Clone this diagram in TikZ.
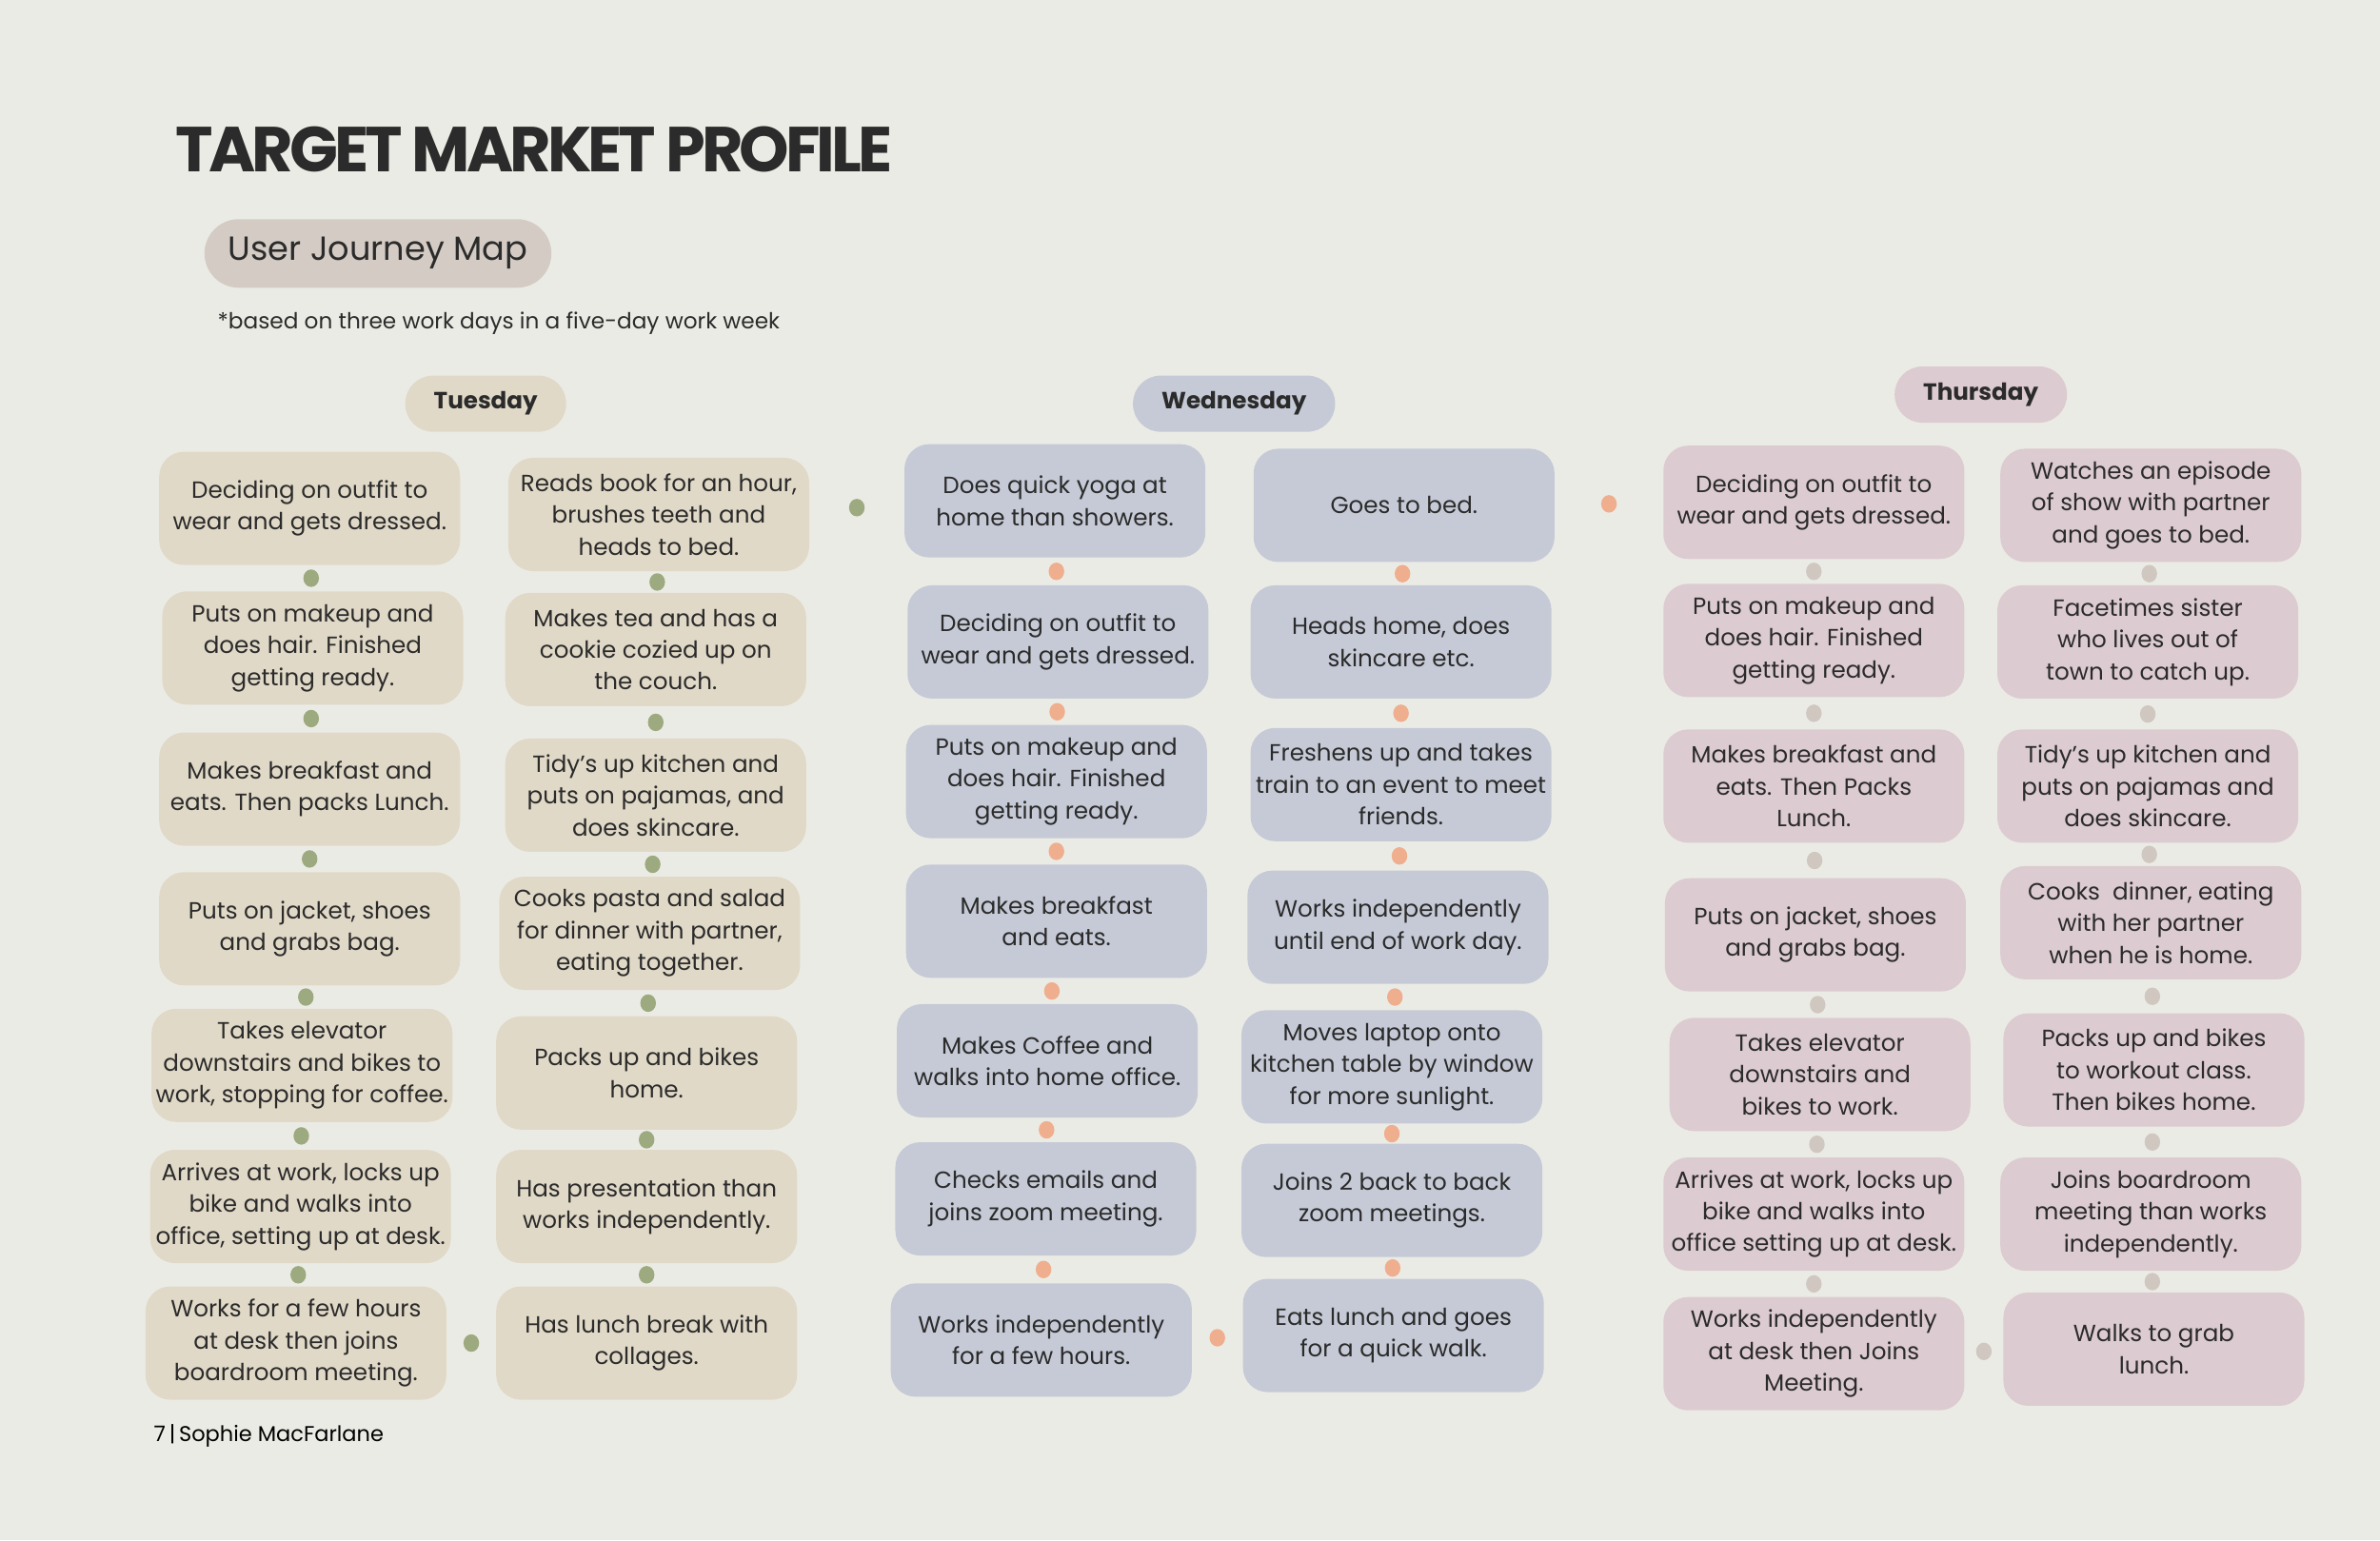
\documentclass[tikz,border=0pt]{standalone}
\usepackage{fontspec}
\setmainfont{Poppins}
\newfontfamily\headfont[LetterSpace=-6]{Poppins}
\usetikzlibrary{calc}
\definecolor{pagebg}{HTML}{EBEBE5}
\definecolor{inktext}{HTML}{2B2B2B}
\definecolor{tuefill}{HTML}{E1D9C7}
\definecolor{tuedot}{HTML}{9DA97E}
\definecolor{wedfill}{HTML}{C5CAD6}
\definecolor{weddot}{HTML}{EFAE8E}
\definecolor{thufill}{HTML}{DCCBD1}
\definecolor{thudot}{HTML}{D0C8C0}
\definecolor{pillfill}{HTML}{D3CBC4}

\tikzset{
    card/.style={rounded corners=2.6mm, minimum width=31.6mm, minimum height=11.9mm,
        align=center, inner sep=1pt, text=inktext, font=\fontsize{7}{9.5}\selectfont},
    tuecard/.style={card, fill=tuefill},
    wedcard/.style={card, fill=wedfill},
    thucard/.style={card, fill=thufill},
    daypill/.style={rounded corners=2.9mm, minimum height=5.9mm, inner xsep=3mm,
        text=inktext, font=\bfseries\fontsize{7}{9}\selectfont},
}

\begin{document}
\begin{tikzpicture}[x=0.1594mm, y=-0.1594mm]
    % Page
    \fill[pagebg] (0,0) rectangle (1568,1015);
    \useasboundingbox (0,0) rectangle (1568,1015);

    % Header
    \node[anchor=base west, inner sep=0pt, text=inktext, font=\headfont\bfseries\fontsize{19}{22}\selectfont] (title) at (115,113) {TARGET MARKET PROFILE};
    \node[fill=pillfill, rounded corners=3.6mm, minimum height=7.2mm, inner xsep=2.5mm, text=inktext, font=\fontsize{10}{12}\selectfont] (journey) at (249,167) {User Journey Map};
    \node[anchor=west, inner sep=0pt, text=inktext, font=\fontsize{6.6}{8}\selectfont] (note) at (143,213) {*based on three work days in a five-day work week};

    % Day labels
    \node[daypill, fill=tuefill] (tue) at (320,266) {Tuesday};
    \node[daypill, fill=wedfill] (wed) at (813,266) {Wednesday};
    \node[daypill, fill=thufill] (thu) at (1305,260) {Thursday};

    % Tuesday
    \node[tuecard] (ta1) at (204,335) {Deciding on outfit to\\wear and gets dressed.};
    \node[tuecard] (ta2) at (206,427) {Puts on makeup and\\does hair. Finished\\getting ready.};
    \node[tuecard] (ta3) at (204,520) {Makes breakfast and\\eats. Then packs Lunch.};
    \node[tuecard] (ta4) at (204,612) {Puts on jacket, shoes\\and grabs bag.};
    \node[tuecard] (ta5) at (199,702) {Takes elevator\\downstairs and bikes to\\work, stopping for coffee.};
    \node[tuecard] (ta6) at (198,795) {Arrives at work, locks up\\bike and walks into\\office, setting up at desk.};
    \node[tuecard] (ta7) at (195,885) {Works for a few hours\\at desk then joins\\boardroom meeting.};
    \node[tuecard] (tb1) at (434,339) {Reads book for an hour,\\brushes teeth and\\heads to bed.};
    \node[tuecard] (tb2) at (432,428) {Makes tea and has a\\cookie cozied up on\\the couch.};
    \node[tuecard] (tb3) at (432,524) {Tidy's up kitchen and\\puts on pajamas, and\\does skincare.};
    \node[tuecard] (tb4) at (428,615) {Cooks pasta and salad\\for dinner with partner,\\eating together.};
    \node[tuecard] (tb5) at (426,707) {Packs up and bikes\\home.};
    \node[tuecard] (tb6) at (426,795) {Has presentation than\\works independently.};
    \node[tuecard] (tb7) at (426,885) {Has lunch break with\\collages.};

    % Wednesday
    \node[wedcard] (wa1) at (695,330) {Does quick yoga at\\home than showers.};
    \node[wedcard] (wa2) at (697,423) {Deciding on outfit to\\wear and gets dressed.};
    \node[wedcard] (wa3) at (696,515) {Puts on makeup and\\does hair. Finished\\getting ready.};
    \node[wedcard] (wa4) at (696,607) {Makes breakfast\\and eats.};
    \node[wedcard] (wa5) at (690,699) {Makes Coffee and\\walks into home office.};
    \node[wedcard] (wa6) at (689,790) {Checks emails and\\joins zoom meeting.};
    \node[wedcard] (wa7) at (686,883) {Works independently\\for a few hours.};
    \node[wedcard] (wb1) at (925,333) {Goes to bed.};
    \node[wedcard] (wb2) at (923,423) {Heads home, does\\skincare etc.};
    \node[wedcard] (wb3) at (923,517) {Freshens up and takes\\train to an event to meet\\friends.};
    \node[wedcard] (wb4) at (921,611) {Works independently\\until end of work day.};
    \node[wedcard] (wb5) at (917,703) {Moves laptop onto\\kitchen table by window\\for more sunlight.};
    \node[wedcard] (wb6) at (917,791) {Joins 2 back to back\\zoom meetings.};
    \node[wedcard] (wb7) at (918,880) {Eats lunch and goes\\for a quick walk.};

    % Thursday
    \node[thucard] (ha1) at (1195,331) {Deciding on outfit to\\wear and gets dressed.};
    \node[thucard] (ha2) at (1195,422) {Puts on makeup and\\does hair. Finished\\getting ready.};
    \node[thucard] (ha3) at (1195,518) {Makes breakfast and\\eats. Then Packs\\Lunch.};
    \node[thucard] (ha4) at (1196,616) {Puts on jacket, shoes\\and grabs bag.};
    \node[thucard] (ha5) at (1199,708) {Takes elevator\\downstairs and\\bikes to work.};
    \node[thucard] (ha6) at (1195,800) {Arrives at work, locks up\\bike and walks into\\office setting up at desk.};
    \node[thucard] (ha7) at (1195,892) {Works independently\\at desk then Joins\\Meeting.};
    \node[thucard] (hb1) at (1417,333) {Watches an episode\\of show with partner\\and goes to bed.};
    \node[thucard] (hb2) at (1415,423) {Facetimes sister\\who lives out of\\town to catch up.};
    \node[thucard] (hb3) at (1415,518) {Tidy's up kitchen and\\puts on pajamas and\\does skincare.};
    \node[thucard] (hb4) at (1417,608) {Cooks \ dinner, eating\\with her partner\\when he is home.};
    \node[thucard] (hb5) at (1419,705) {Packs up and bikes\\to workout class.\\Then bikes home.};
    \node[thucard] (hb6) at (1417,800) {Joins boardroom\\meeting than works\\independently.};
    \node[thucard] (hb7) at (1419,889) {Walks to grab\\lunch.};

    % Dots down each column
    \foreach \c/\col in {ta/tuedot, tb/tuedot, wa/weddot, wb/weddot, ha/thudot, hb/thudot} {
        \foreach \i [evaluate=\i as \j using int(\i+1)] in {1,...,6} {
            \fill[\col] ($(\c\i.south)!0.5!(\c\j.north)$) ellipse (0.82mm and 0.92mm);
        }
    }
    % Dots across
    \foreach \a/\b/\col in {ta7/tb7/tuedot, tb1/wa1/tuedot, wa7/wb7/weddot, wb1/ha1/weddot, ha7/hb7/thudot} {
        \fill[\col] ($(\a.east)!0.5!(\b.west)$) ellipse (0.82mm and 0.92mm);
    }

    % Footer
    \node[anchor=west, inner sep=0pt, text=black, font=\fontsize{6.4}{8}\selectfont] (footer) at (101,946) {7\,|\,Sophie MacFarlane};
\end{tikzpicture}
\end{document}
